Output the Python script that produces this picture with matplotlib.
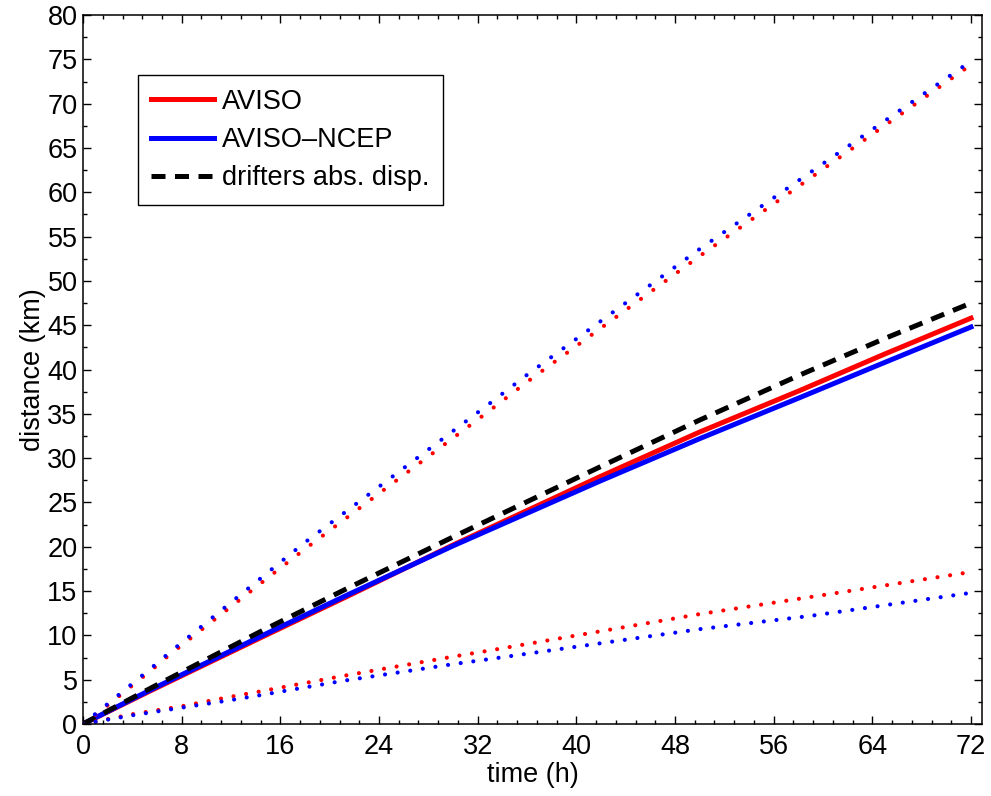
"""Absolute dispersion: AVISO vs AVISO-NCEP vs drifters."""

import matplotlib.pyplot as plt
import numpy as np
from matplotlib.ticker import MultipleLocator

plt.rcParams["font.family"] = ["Liberation Sans", "DejaVu Sans"]

# mean absolute dispersion (solid / dashed)
t_mean = [0, 5.7, 14.35, 21.5, 30, 41.9, 50, 58.15, 65, 72]
aviso = [0, 3.9, 9.7, 14.45, 20.2, 27.9, 32.95, 37.65, 41.75, 45.8]
aviso_ncep = [0, 4.0, 9.85, 14.6, 20.1, 27.4, 32.2, 36.85, 40.8, 44.8]
drifters = [0, 4.2, 10.4, 15.35, 21.1, 29.0, 34.3, 39.4, 43.5, 47.5]

# upper envelope (dotted)
t_up = [0, 2, 6, 7, 16, 18, 33, 36, 50, 72]
aviso_up = [0, 2.1, 6.6, 7.8, 17.6, 19.75, 35.4, 38.6, 52.8, 74.4]
aviso_ncep_up = [0, 2.26, 6.85, 8.05, 18.25, 20.5, 36.2, 39.4, 53.6, 74.8]

# lower envelope (dotted)
t_low = [0, 4, 8, 12, 14, 21, 30, 33, 50, 59, 72]
aviso_low = [0, 1.1, 2.0, 3.08, 3.58, 5.4, 7.6, 8.3, 12.4, 14.33, 17.15]
aviso_ncep_low = [0, 0.98, 1.84, 2.7, 3.16, 4.85, 6.75, 7.33, 10.7, 12.2, 14.8]

fig = plt.figure(figsize=(9.91, 7.96), dpi=100)
ax = fig.add_axes([0.0838, 0.0905, 0.9072, 0.8905])

lw = 3.6
ax.plot(t_mean, aviso, color="#ff0000", lw=lw, label="AVISO")
ax.plot(t_mean, aviso_ncep, color="#0000ff", lw=lw, label="AVISO\u2013NCEP")
ax.plot(t_mean, drifters, color="black", lw=lw, linestyle=(0, (2.8, 1.9)),
        dash_capstyle="butt", label="drifters abs. disp.")

dot_up = (0, (0.01, 3.65))
dot_low = (0, (0.01, 3.05))
for t, y, c, ls in [
    (t_up, aviso_up, "#ff0000", dot_up),
    (t_up, aviso_ncep_up, "#0000ff", dot_up),
    (t_low, aviso_low, "#ff0000", dot_low),
    (t_low, aviso_ncep_low, "#0000ff", dot_low),
]:
    ax.plot(t, y, color=c, lw=3.0, linestyle=ls, dash_capstyle="round")

ax.set_xlim(0, 72.9)
ax.set_ylim(0, 80)
ax.xaxis.set_major_locator(MultipleLocator(8))
ax.xaxis.set_minor_locator(MultipleLocator(1.6))
ax.yaxis.set_major_locator(MultipleLocator(5))
ax.yaxis.set_minor_locator(MultipleLocator(2.5))
ax.tick_params(which="both", direction="in", top=True, right=True,
               labelsize=19.5, width=1.0)
ax.tick_params(which="major", length=5.8)
ax.tick_params(which="minor", length=3.2)
ax.tick_params(axis="x", pad=7)
ax.tick_params(axis="y", pad=4)
for s in ax.spines.values():
    s.set_linewidth(1.1)

ax.set_xlabel("time (h)", fontsize=19.5, labelpad=2)
ax.set_ylabel("distance (km)", fontsize=19.5, labelpad=1)

leg = ax.legend(loc="upper left", bbox_to_anchor=(0.061, 0.915),
                borderaxespad=0, fontsize=19.5, handlelength=2.3,
                handletextpad=0.3, labelspacing=0.45, borderpad=0.5,
                fancybox=False, framealpha=1, edgecolor="black")
leg.get_frame().set_linewidth(1.0)

fig.savefig("out.png", dpi=100)
plt.close(fig)
